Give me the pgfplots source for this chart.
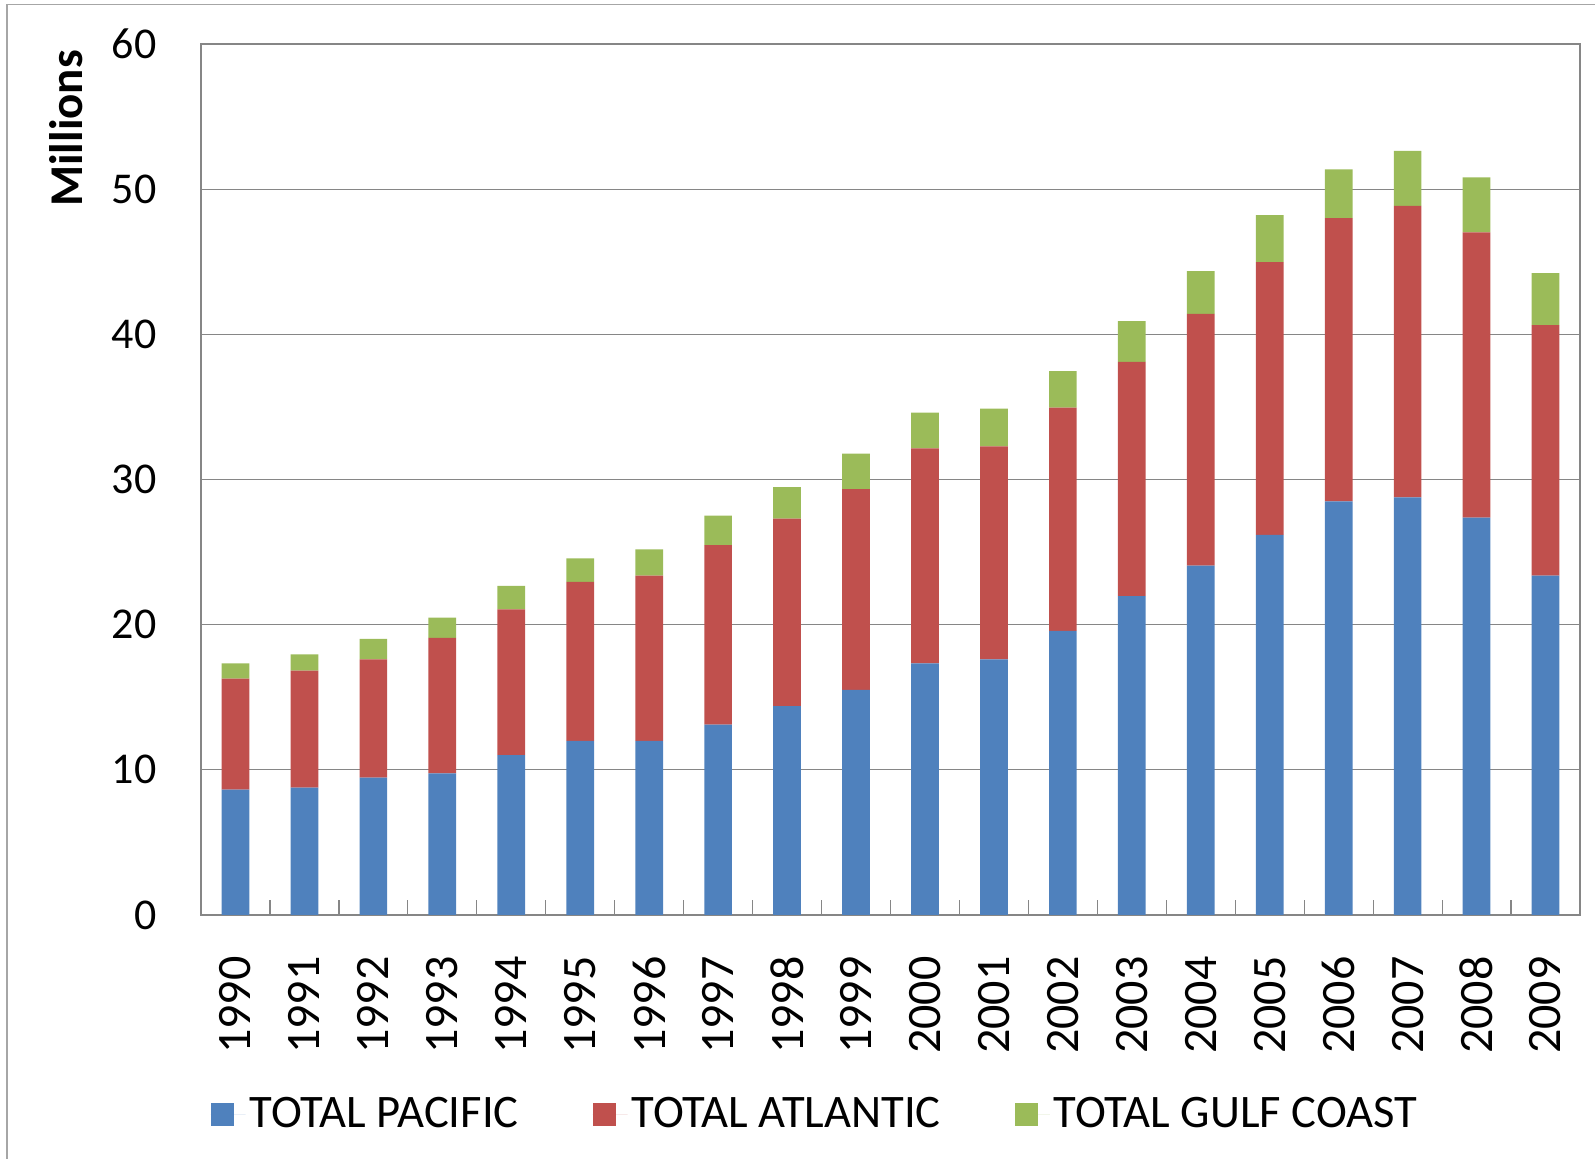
\documentclass[border=0pt]{standalone}
\usepackage{pgfplots}
\pgfplotsset{compat=1.18}
\usepackage{pgfplotstable}
\usepackage{fontspec}
\setmainfont{Carlito}

\definecolor{pac}{HTML}{4F81BD}
\definecolor{atl}{HTML}{C0504D}
\definecolor{gulf}{HTML}{9BBB59}
\definecolor{gridgray}{HTML}{868686}
\definecolor{framegray}{HTML}{A6A6A6}

% Totals by coast, millions (x = 0 is 1990)
\pgfplotstableread{
x  pac   atl   gulf
0  8.63  7.65  1.05
1  8.77  8.07  1.12
2  9.47  8.14  1.41
3  9.75  9.34  1.40
4  11.02 10.03 1.62
5  12.00 10.95 1.61
6  12.00 11.37 1.82
7  13.12 12.35 2.04
8  14.39 12.91 2.17
9  15.51 13.82 2.46
10 17.33 14.81 2.46
11 17.61 14.67 2.60
12 19.58 15.37 2.52
13 21.96 16.15 2.80
14 24.07 17.33 2.95
15 26.18 18.80 3.23
16 28.49 19.51 3.37
17 28.77 20.07 3.79
18 27.37 19.65 3.79
19 23.37 17.26 3.58
}\coastdata

\begin{document}
\begin{tikzpicture}
\useasboundingbox (0,0) rectangle (797.5pt,579.5pt);
% outer chart frame
\draw[framegray, line width=0.7pt] (3.5pt,-5pt) -- (3.5pt,577.2pt) -- (805pt,577.2pt);
\begin{axis}[
  at={(100.5pt,122pt)}, anchor=south west,
  scale only axis, width=689.5pt, height=435.5pt,
  ybar stacked, bar width=13.85pt,
  xmin=-0.5, xmax=19.5, ymin=0, ymax=60,
  xtick={0,...,19},
  xticklabels={1990,1991,1992,1993,1994,1995,1996,1997,1998,1999,2000,2001,2002,2003,2004,2005,2006,2007,2008,2009},
  minor xtick={-0.5,0.5,...,19.5},
  ytick={0,10,...,60},
  major tick length=0pt,
  minor tick length=7.5pt,
  tick align=inside, tick pos=left,
  minor tick style={gridgray, line width=0.6pt},
  ymajorgrids, major grid style={gridgray, line width=0.6pt},
  axis line style={gridgray, line width=0.6pt},
  /pgf/number format/assume math mode=true,
  xticklabel shift=20.5pt,
  yticklabel shift=22pt,
  xticklabel style={rotate=90, anchor=east, inner sep=0pt, font=\fontsize{24}{24}\selectfont},
  yticklabel style={anchor=east, inner sep=0pt, font=\fontsize{22}{22}\selectfont},
  ylabel={Millions},
  ylabel style={at={(axis description cs:-0.0979,0.903)}, anchor=center, inner sep=0pt,
    font=\bfseries\fontsize{23.5}{23.5}\selectfont},
  legend columns=3,
  legend style={draw=none, fill=none, at={(axis description cs:0.446,-0.2285)}, anchor=center,
    font=\fontsize{23.3}{23.3}\selectfont,
    /tikz/every even column/.append style={column sep=35pt}},
  legend image code/.code={\fill[#1] (0pt,-5.75pt) rectangle (11.5pt,5.75pt);
    \path (0pt,0pt) -- (17.5pt,0pt);},
]
\addplot[fill=pac, draw=none] table[x=x, y=pac] {\coastdata};
\addlegendentry{TOTAL PACIFIC}
\addplot[fill=atl, draw=none] table[x=x, y=atl] {\coastdata};
\addlegendentry{TOTAL ATLANTIC}
\addplot[fill=gulf, draw=none] table[x=x, y=gulf] {\coastdata};
\addlegendentry{TOTAL GULF COAST}
\end{axis}
\end{tikzpicture}
\end{document}
